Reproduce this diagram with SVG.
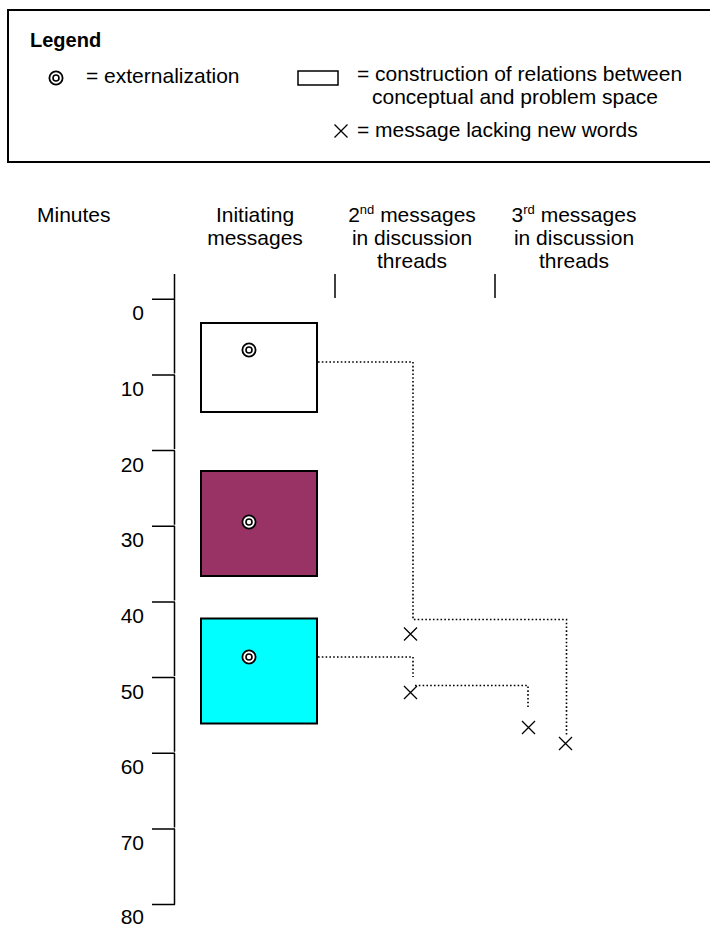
<svg xmlns="http://www.w3.org/2000/svg" width="710" height="927" viewBox="0 0 710 927">
<defs>
<style>
text{font-family:"Liberation Sans",Arial,sans-serif;font-size:21px;fill:#000}
.b{font-weight:bold;font-size:20px}
.m{text-anchor:middle}
.e{text-anchor:end}
.ln{stroke:#000;stroke-width:1.5;fill:none}
.dot{stroke:#000;stroke-width:1.6;fill:none;stroke-dasharray:1.6 2.2}
.x{stroke:#000;stroke-width:1.3;fill:none}
.box{stroke:#000;stroke-width:2}
</style>
<g id="ext">
<circle r="6.6" fill="#fff" stroke="#000" stroke-width="1.8"/>
<circle r="3" fill="#fff" stroke="#000" stroke-width="1.6"/>
</g>
<path id="cross" d="M-6.5,-6.5L6.5,6.5M6.5,-6.5L-6.5,6.5"/>
</defs>
<rect width="710" height="927" fill="#fff"/>

<g id="legend">
<rect x="8" y="10" width="720" height="152" fill="#fff" stroke="#000" stroke-width="2"/>
<text x="30" y="47" class="b">Legend</text>
<use href="#ext" x="56" y="78"/>
<text x="86" y="83">= externalization</text>
<rect x="298" y="71" width="40" height="14" fill="#fff" stroke="#000" stroke-width="1.5"/>
<text x="357" y="81">= construction of relations between</text>
<text x="372" y="104">conceptual and problem space</text>
<use href="#cross" class="x" x="341" y="131"/>
<text x="357" y="137">= message lacking new words</text>
</g>

<g id="headers">
<text x="37" y="222">Minutes</text>
<text x="255" y="222" class="m">Initiating</text>
<text x="255" y="245" class="m">messages</text>
<text x="412" y="222" class="m">2<tspan font-size="13" dy="-8">nd</tspan><tspan dy="8"> messages</tspan></text>
<text x="412" y="245" class="m">in discussion</text>
<text x="412" y="268" class="m">threads</text>
<text x="574" y="222" class="m">3<tspan font-size="13" dy="-8">rd</tspan><tspan dy="8"> messages</tspan></text>
<text x="574" y="245" class="m">in discussion</text>
<text x="574" y="268" class="m">threads</text>
<line class="ln" x1="335" y1="274" x2="335" y2="298"/>
<line class="ln" x1="495" y1="274" x2="495" y2="298"/>
</g>

<g id="axis">
<path class="ln" d="M174.5,274V373.5M174.5,375V449M174.5,450.6V524.8M174.5,526.3V600.5M174.5,602V676.1M174.5,677.6V751.7M174.5,753.2V827.4M174.5,828.9V904.5"/>
<path class="ln" d="M152,299.3H175M152,375H175M152,450.6H175M152,526.3H175M152,602H175M152,677.6H175M152,753.2H175M152,828.9H175M152,904.5H175"/>
<text x="144" y="320" class="e">0</text>
<text x="144" y="396" class="e">10</text>
<text x="144" y="472" class="e">20</text>
<text x="144" y="547" class="e">30</text>
<text x="144" y="623" class="e">40</text>
<text x="144" y="699" class="e">50</text>
<text x="144" y="774" class="e">60</text>
<text x="144" y="850" class="e">70</text>
<text x="144" y="924" class="e">80</text>
</g>

<g id="msg1">
<rect class="box" x="201" y="323" width="116" height="89" fill="#fff"/>
<use href="#ext" x="249" y="350"/>
</g>
<g id="msg2">
<rect class="box" x="201" y="471" width="116" height="105" fill="#993366"/>
<use href="#ext" x="249" y="522"/>
</g>
<g id="msg3">
<rect class="box" x="201" y="618.5" width="116" height="105" fill="#00FFFF"/>
<use href="#ext" x="249" y="657"/>
</g>

<g id="replies">
<use href="#cross" class="x" x="410.5" y="634"/>
<use href="#cross" class="x" x="410.5" y="692.5"/>
<use href="#cross" class="x" x="528.5" y="727.5"/>
<use href="#cross" class="x" x="565.5" y="743.5"/>
</g>

<g id="connectors">
<polyline class="dot" points="318,362 413,362 413,619.5 566.5,619.5 566.5,735"/>
<polyline class="dot" points="318,657 413,657 413,677"/>
<polyline class="dot" points="415,685.5 528,685.5 528,707"/>
</g>
</svg>
